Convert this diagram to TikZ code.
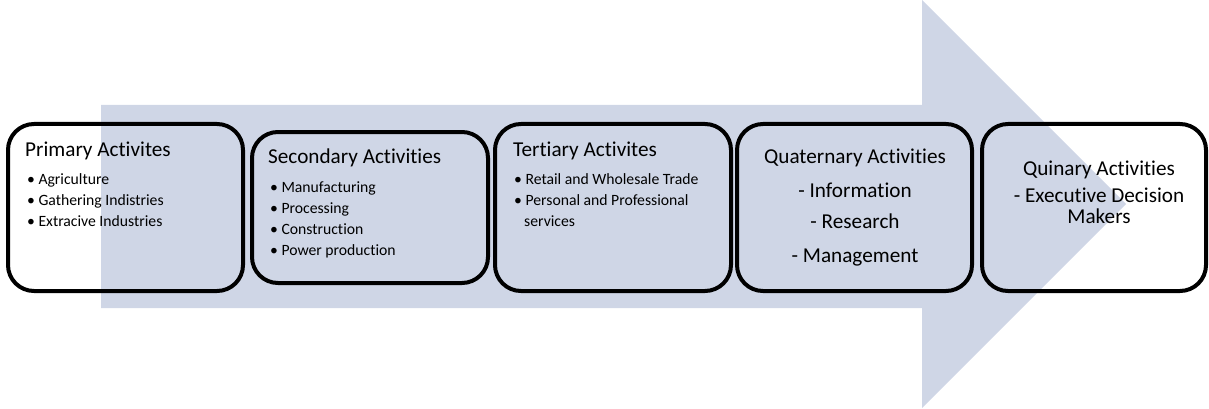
\documentclass[tikz,border=0pt]{standalone}
\usepackage{fontspec}
\setmainfont{Carlito}[Ligatures=NoCommon]
\definecolor{arrowc}{HTML}{CFD6E6}
\tikzset{
  box/.style={draw=black, line width=4pt, rounded corners=26pt, inner sep=0pt},
  ttl/.style={anchor=base west, inner sep=0pt, font=\fontsize{21.2}{24}\selectfont},
  itm/.style={anchor=base west, inner sep=0pt, font=\fontsize{15.7}{18}\selectfont},
  ctr/.style={anchor=base, inner sep=0pt, font=\fontsize{21.2}{24}\selectfont},
}
\begin{document}
\begin{tikzpicture}[x=1pt,y=-1pt]
\useasboundingbox (0,0) rectangle (1209,409);
\fill[arrowc] (101,105) -- (922,105) -- (922,0) -- (1126,204) -- (922,408) -- (922,308) -- (101,308) -- cycle;
% boxes
\draw[box] (8,124) rectangle (243,291);
\draw[box] (252,132) rectangle (488,283);
\draw[box] (495,124) rectangle (731,291);
\draw[box] (737,124) rectangle (972,291);
\draw[box] (982,124) rectangle (1206,291);
% box 1
\node[ttl] (t1) at (25,157) {Primary Activites};
\node[itm] (t1a) at (27,184) {•\hspace{3.5pt}Agriculture};
\node[itm] (t1b) at (27,205) {•\hspace{3.5pt}Gathering Indistries};
\node[itm] (t1c) at (27,226) {•\hspace{3.5pt}Extracive Industries};
% box 2
\node[ttl] (t2) at (268,163) {Secondary Activities};
\node[itm] (t2a) at (270,192) {•\hspace{3.5pt}Manufacturing};
\node[itm] (t2b) at (270,213) {•\hspace{3.5pt}Processing};
\node[itm] (t2c) at (270,234) {•\hspace{3.5pt}Construction};
\node[itm] (t2d) at (270,255) {•\hspace{3.5pt}Power production};
% box 3
\node[ttl] (t3) at (513,157) {Tertiary Activites};
\node[itm] (t3a) at (514,184) {•\hspace{3.5pt}Retail and Wholesale Trade};
\node[itm] (t3b) at (514,205) {•\hspace{3.5pt}Personal and Professional};
\node[itm] (t3c) at (524,226) {services};
% box 4
\node[ctr] (t4) at (855,163) {Quaternary Activities};
\node[ctr] (t4a) at (855,197) {- Information};
\node[ctr] (t4b) at (855,228) {- Research};
\node[ctr] (t4c) at (855,262) {- Management};
% box 5
\node[ctr] (t5) at (1099,175) {Quinary Activities};
\node[ctr] (t5a) at (1099,202) {- Executive Decision};
\node[ctr] (t5b) at (1099,223) {Makers};
\end{tikzpicture}
\end{document}
